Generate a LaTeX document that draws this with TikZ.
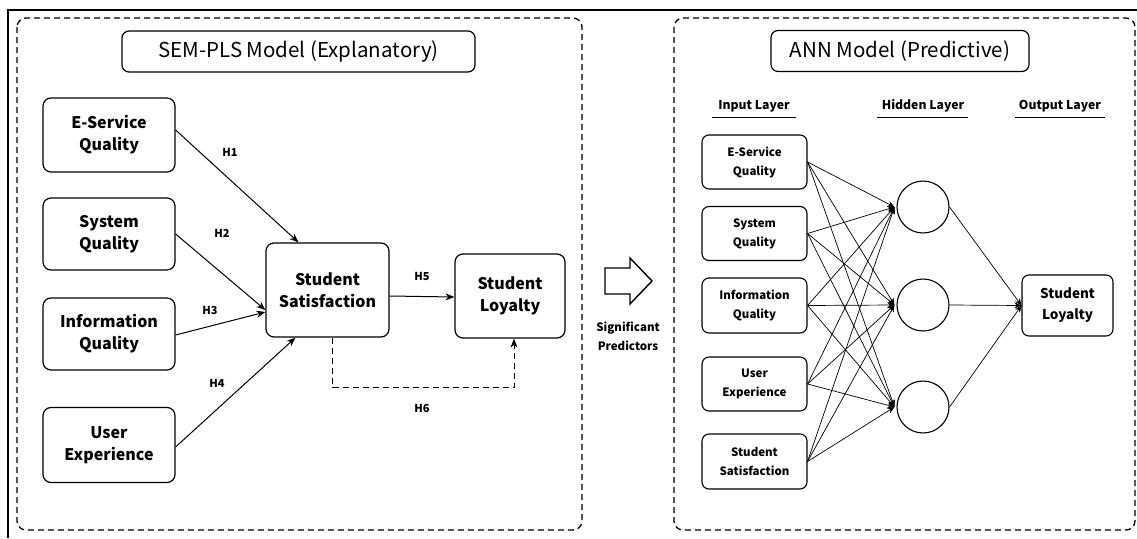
\documentclass[tikz,border=0pt]{standalone}
\usepackage{fontspec}
\setmainfont{Noto Sans CJK SC}
\usetikzlibrary{arrows.meta,calc}
\begin{document}
\begin{tikzpicture}[x=1pt,y=-1pt,
  panel/.style={draw, dash pattern=on 6pt off 4pt, line width=1.3pt, rounded corners=9pt},
  titlebox/.style={draw, line width=1.2pt, rounded corners=7pt, font=\fontsize{20.5}{24}\selectfont, inner sep=0pt},
  box/.style={draw, line width=1.2pt, rounded corners=8pt, align=center, inner sep=0pt, font=\bfseries\fontsize{16}{22}\selectfont},
  sbox/.style={draw, line width=1.1pt, rounded corners=7pt, align=center, inner sep=0pt, font=\bfseries\fontsize{11.5}{19}\selectfont},
  hlab/.style={font=\bfseries\fontsize{11}{13}\selectfont, inner sep=1pt},
  layer/.style={font=\bfseries\fontsize{12.2}{15}\selectfont, inner sep=1pt},
  arr/.style={-{Stealth[length=9pt,width=7pt]}, line width=1pt},
  narr/.style={-{Stealth[length=7pt,width=6pt]}, line width=0.7pt},
  neuron/.style={draw, circle, line width=1.1pt, minimum size=52pt, inner sep=0pt}
]
\useasboundingbox (0,0) rectangle (1137,538);
\fill[white] (0,0) rectangle (1137,538);
% outer frame
\draw[line width=2pt] (8,538) -- (8,10) -- (1137,10);
% panels
\draw[panel] (17,18) rectangle (582,530);
\draw[panel] (674,18) rectangle (1135,530);

% ---------- SEM-PLS ----------
\node[titlebox, minimum width=353pt, minimum height=41pt] (t1) at (298.5,51.5) {SEM-PLS Model (Explanatory)};
\node[box, minimum width=132pt, minimum height=74pt] (es) at (109,135) {E-Service\\Quality};
\node[box, minimum width=132pt, minimum height=72pt] (sq) at (109,234) {System\\Quality};
\node[box, minimum width=132pt, minimum height=72pt] (iq) at (109,334) {Information\\Quality};
\node[box, minimum width=132pt, minimum height=75pt] (ux) at (109,445) {User\\Experience};
\node[box, minimum width=123pt, minimum height=94pt] (ss) at (327.5,290) {Student\\Satisfaction};
\node[box, minimum width=110pt, minimum height=84pt] (sl) at (510,296) {Student\\Loyalty};

\draw[arr] ([yshift=5pt]es.east) -- ([xshift=-29pt]ss.north);
\draw[arr] (sq.east) -- ([yshift=-20pt]ss.west);
\draw[arr] ([yshift=-1pt]iq.east) -- ([yshift=-22pt]ss.west);
\draw[arr] ([yshift=-2pt]ux.east) -- ([xshift=-32pt]ss.south);
\draw[arr] ([yshift=-6pt]ss.east) -- ([yshift=-1pt]sl.west |- {$([yshift=-6pt]ss.east)$});
\coordinate (h6a) at ([xshift=5pt]ss.south);
\coordinate (h6b) at ([xshift=4pt]sl.south);
\draw[arr, dash pattern=on 6pt off 4pt] (h6a) -- ++(0,50) -| (h6b);

\node[hlab] (l1) at (230,152) {H1};
\node[hlab] (l2) at (222,233) {H2};
\node[hlab] (l3) at (210,310) {H3};
\node[hlab] (l4) at (217,383) {H4};
\node[hlab] (l5) at (422,276) {H5};
\node[hlab] (l6) at (422,408) {H6};

% ---------- middle arrow ----------
\draw[line width=1.4pt, line join=miter] (605,268) -- (630,268) -- (630,258) -- (652,281) -- (630,304) -- (630,294) -- (605,294) -- cycle;
\node[font=\bfseries\fontsize{11.5}{19}\selectfont, align=center] (sp) at (628,336) {Significant\\Predictors};

% ---------- ANN ----------
\node[titlebox, minimum width=258pt, minimum height=41pt] (t2) at (900,51) {ANN Model (Predictive)};
\node[layer] (li) at (754,106) {Input Layer};
\node[layer] (lh) at (923,106) {Hidden Layer};
\node[layer] (lo) at (1060,106) {Output Layer};
\draw[line width=1pt] (712,117) -- (796,117);
\draw[line width=1pt] (877,117) -- (968,117);
\draw[line width=1pt] (1015,117) -- (1105,117);

\node[sbox, minimum width=105pt, minimum height=54pt] (i1) at (754.5,162) {E-Service\\Quality};
\node[sbox, minimum width=105pt, minimum height=54pt] (i2) at (754.5,233.5) {System\\Quality};
\node[sbox, minimum width=105pt, minimum height=55pt] (i3) at (754.5,305.5) {Information\\Quality};
\node[sbox, minimum width=105pt, minimum height=54pt] (i4) at (754.5,384) {User\\Experience};
\node[sbox, minimum width=105pt, minimum height=55pt] (i5) at (754.5,461.5) {Student\\Satisfaction};

\node[neuron] (n1) at (923,207) {};
\node[neuron] (n2) at (923,305) {};
\node[neuron] (n3) at (923,407) {};

\node[sbox, font=\bfseries\fontsize{13.5}{21}\selectfont, minimum width=91pt, minimum height=61pt] (out) at (1067.5,305.5) {Student\\Loyalty};

\foreach \i in {i1,i2,i3,i4,i5}{
  \foreach \n in {n1,n2,n3}{
    \draw[narr] (\i.east) -- ([xshift=-2pt]\n.west);
  }
}
\foreach \n in {n1,n2,n3}{
  \draw[narr] (\n.east) -- (out.west);
}
\end{tikzpicture}
\end{document}
